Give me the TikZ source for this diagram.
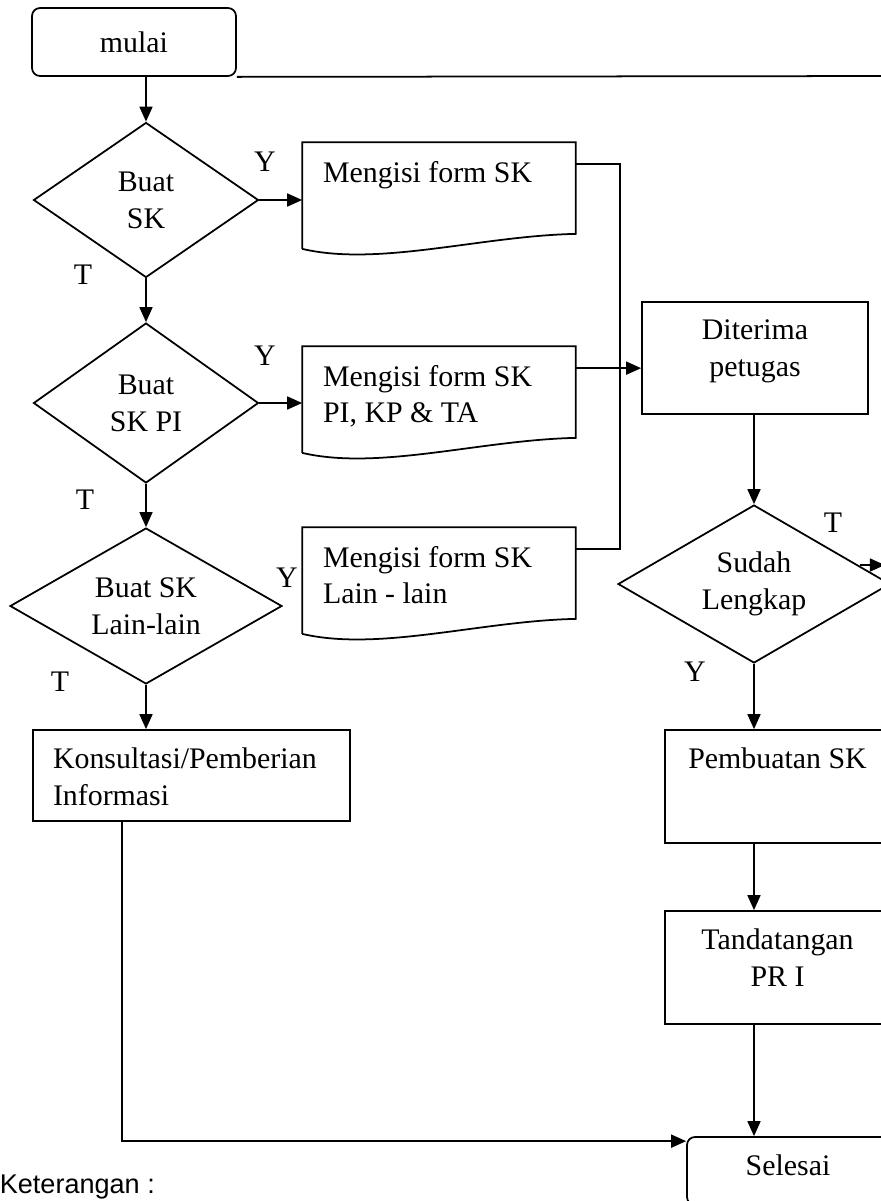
\documentclass[tikz,border=0pt]{standalone}
\usepackage{fontspec}
\setmainfont{Liberation Serif}
\newfontfamily\ketfont{Liberation Sans}
\usetikzlibrary{shapes.geometric, arrows.meta, calc, positioning}

\tikzset{
  flow/.style={-{Triangle[length=0.3cm,width=0.26cm]}},
  proc/.style={draw, rectangle, inner sep=0pt},
  term/.style={draw, rectangle, rounded corners=0.16cm, inner sep=0pt},
  cond/.style={draw, diamond, aspect=1.75, inner sep=0pt, align=center},
  docu/.style={rectangle, inner sep=0pt, minimum width=5.44cm, minimum height=2.1cm},
  txt/.style={inner sep=0pt, align=left},
}

\begin{document}
\begin{tikzpicture}[x=0.02cm, y=-0.02cm, line width=1pt, font=\fontsize{17}{21}\selectfont]
        % Page frame (picture is cut at the right and bottom)
        \useasboundingbox (0,0) rectangle (881,1201);
        \clip (0,0) rectangle (881,1201);

        % Left column: start and decisions
        \node[term, minimum width=4.08cm, minimum height=1.36cm] (mulai) at (134,42) {mulai};
        \node[cond, minimum width=4.5cm, minimum height=3.1cm] (bs) at (146,200) {Buat\\SK};
        \node[cond, minimum width=4.5cm, minimum height=3.2cm] (bpi) at (146,403) {Buat\\SK PI};
        \node[cond, minimum width=5.44cm, minimum height=3.12cm] (bll) at (146,606) {Buat SK\\Lain-lain};
        \node[proc, minimum width=6.34cm, minimum height=1.82cm] (kons) at (191.5,775.5) {};
        \node[txt, anchor=north west] (tkons) at ($(kons.north west)+(20,18)$) {Konsultasi/Pemberian\\Informasi};

        % Middle column: forms
        \node[docu] (d1) at (439,195.5) {};
        \node[docu] (d2) at (439,399.5) {};
        \node[docu] (d3) at (439,580.5) {};
        \foreach \d in {d1,d2,d3}
            \draw (\d.south west) -- (\d.north west) -- (\d.north east) -- ($(\d.south east)+(0,-15)$)
                .. controls ($(\d.south east)+(-95,-13)$) and ($(\d.south west)+(77,18)$) .. (\d.south west);
        \node[txt, anchor=north west] (td1) at ($(d1.north west)+(20,18)$) {Mengisi form SK};
        \node[txt, anchor=north west] (td2) at ($(d2.north west)+(20,18)$) {Mengisi form SK\\PI, KP \& TA};
        \node[txt, anchor=north west] (td3) at ($(d3.north west)+(20,18)$) {Mengisi form SK\\Lain - lain};

        % Right column: processing
        \node[proc, minimum width=4.52cm, minimum height=2.24cm] (dit) at (755,358) {};
        \node[txt, align=center, anchor=north] (tdit) at ($(dit.north)+(0,18)$) {Diterima\\petugas};
        \node[cond, minimum width=5.44cm, minimum height=3.16cm] (sl) at (754,584) {Sudah\\Lengkap};
        \node[proc, minimum width=4.5cm, minimum height=2.26cm] (pem) at (777.5,786.5) {};
        \node[txt, anchor=north] (tpem) at ($(pem.north)+(0,18)$) {Pembuatan SK};
        \node[proc, minimum width=4.5cm, minimum height=2.26cm] (ttd) at (777.5,967.5) {};
        \node[txt, align=center, anchor=north] (tttd) at ($(ttd.north)+(0,18)$) {Tandatangan\\PR I};
        \node[term, minimum width=4.04cm, minimum height=1.36cm] (sel) at (788,1171) {};
        \node[txt, anchor=north] (tsel) at ($(sel.north)+(0,18)$) {Selesai};

        % Connectors
        \coordinate (offR) at (900,76);
        \coordinate (bus) at (620,0);
        \coordinate (c1) at ($(d1.north east)+(0,22)$);
        \coordinate (c2) at ($(d2.north east)+(0,22)$);
        \coordinate (c3) at ($(d3.north east)+(0,22)$);
        \draw (mulai.south east) -- (offR);
        \draw[flow] (mulai.south -| bs.north) -- (bs.north);
        \draw[flow] (bs.east) -- (bs.east -| d1.west);
        \draw[flow] (bpi.east) -- (bpi.east -| d2.west);
        \draw[flow] (bs.south) -- (bpi.north);
        \draw[flow] (bpi.south) -- (bll.north);
        \draw[flow] (bll.south) -- (bll.south |- kons.north);
        \draw (c1) -| (bus |- c3) -- (c3);
        \draw[flow] (c2) -- (c2 -| dit.west);
        \draw[flow] (dit.south -| sl.north) -- (sl.north);
        \draw[flow] ($(sl.east)+(-31,-19)$) -- ($(sl.east)+(-6,-19)$);
        \draw[flow] (sl.south) -- (sl.south |- pem.north);
        \draw[flow] (pem.south -| sl.south) -- (ttd.north -| sl.south);
        \draw[flow] (ttd.south -| sl.south) -- (sel.north -| sl.south);
        \draw[flow] ($(kons.south west)+(90,0)$) |- ($(sel.north west)+(0,5)$);

        % Branch labels
        \node (y1) at (265,162) {Y};
        \node (y2) at (265,356) {Y};
        \node (y3) at (287,578) {Y};
        \node (y4) at (695,672) {Y};
        \node (t1) at (83,275) {T};
        \node (t2) at (85,500) {T};
        \node (t3) at (60,682) {T};
        \node (t4) at (833,523) {T};

        % Legend heading
        \node[inner sep=0pt, anchor=base west, font=\ketfont\fontsize{15.4}{18}\selectfont] (ket) at (-1,1193) {Keterangan :};
\end{tikzpicture}
\end{document}
